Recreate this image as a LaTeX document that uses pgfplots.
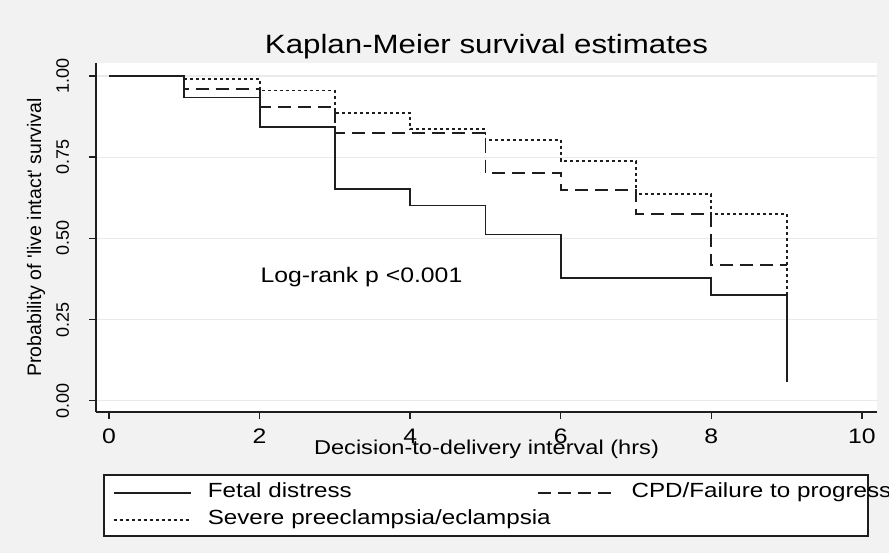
\documentclass[border=0pt]{standalone}
\usepackage{pgfplots}
\pgfplotsset{compat=1.18}
\usepackage{fontspec}
\setmainfont{Liberation Sans}[FakeStretch=1.18]
\newfontfamily\rotfont{Liberation Sans}
\definecolor{bg}{HTML}{F2F2F2}
\definecolor{gridc}{HTML}{EAEAEA}
\definecolor{ink}{HTML}{1E1E1E}
\begin{document}
\begin{tikzpicture}[x=1pt,y=1pt]
\fill[bg] (0,0) rectangle (889,553);
\useasboundingbox (0,0) rectangle (889,553);
\begin{axis}[
  at={(96pt,141pt)}, anchor=south west,
  scale only axis, width=781pt, height=349pt,
  xmin=-0.173, xmax=10.2, ymin=-0.0348, ymax=1.040,
  clip=false,
  axis background/.style={fill=white},
  axis x line*=bottom, axis y line*=left,
  axis line style={line width=1.4pt, ink},
  tick style={line width=1.4pt, ink},
  tick align=outside, major tick length=7pt,
  xtick={0,2,4,6,8,10}, xticklabels={0,2,4,6,8,10},
  ytick={0,0.25,0.5,0.75,1}, yticklabels={0.00,0.25,0.50,0.75,1.00},
  /pgf/number format/assume math mode=true,
  xticklabel style={font=\fontsize{21}{24}\selectfont, anchor=base, yshift=-25pt},
  yticklabel style={xshift=-20pt, font=\rotfont\fontsize{18}{20}\selectfont, rotate=90, anchor=base},
  ymajorgrids, grid style={gridc, line width=1.2pt},
  title={Kaplan-Meier survival estimates},
  title style={font=\fontsize{26.5}{30}\selectfont, at={(axis description cs:0.5,1)}, anchor=base, yshift=3pt},
  xlabel={Decision-to-delivery interval (hrs)},
  xlabel style={font=\fontsize{20}{24}\selectfont, at={(axis description cs:0.5,-0.123)}, anchor=base},
  ylabel={Probability of \textquotesingle live intact\textquotesingle\ survival},
  ylabel style={font=\rotfont\fontsize{19.5}{22}\selectfont, at={(axis description cs:-0.0704,0.5)}, anchor=base},
  legend columns=2,
  legend cell align=left,
  legend style={draw=none, fill=none, at={(axis description cs:0.02177,-0.2034)}, anchor=north west,
    inner sep=0pt, outer sep=0pt, column sep=16pt, row sep=7pt,
    font=\fontsize{20.5}{24}\selectfont,
    nodes={inner sep=0pt, text width=313pt, text height=15pt, text depth=5pt}},
  legend image code/.code={\draw[#1] (0pt,0pt) -- (77pt,0pt);},
]
\draw[line width=1.4pt, ink, fill=white] (axis cs:-0.0664,-0.2288) rectangle (axis cs:10.080,-0.4167);

\addplot[const plot, line width=1.8pt, ink] coordinates {
(0,1) (1,0.934) (2,0.842) (3,0.651) (4,0.601) (5,0.512) (6,0.379) (8,0.326) (9,0.0585)};
\addlegendentry{\mbox{Fetal distress}}

\addplot[const plot, line width=1.8pt, ink, dash pattern=on 13pt off 7pt] coordinates {
(0,1) (1,0.959) (2,0.905) (3,0.824) (5,0.700) (6,0.649) (7,0.575) (8,0.418) (9,0.418)};
\addlegendentry{\mbox{CPD/Failure to progress}}

\addplot[const plot, line width=1.8pt, ink, dash pattern=on 3pt off 3pt] coordinates {
(0,1) (1,0.990) (2,0.955) (3,0.887) (4,0.837) (5,0.803) (6,0.738) (7,0.636) (8,0.575) (9,0.326)};
\addlegendentry{\mbox{Severe preeclampsia/eclampsia}}

\node[anchor=base west, font=\fontsize{21}{24}\selectfont] at (axis cs:1.965,0.3625) {Log-rank p <0.001};
\end{axis}
\end{tikzpicture}
\end{document}
